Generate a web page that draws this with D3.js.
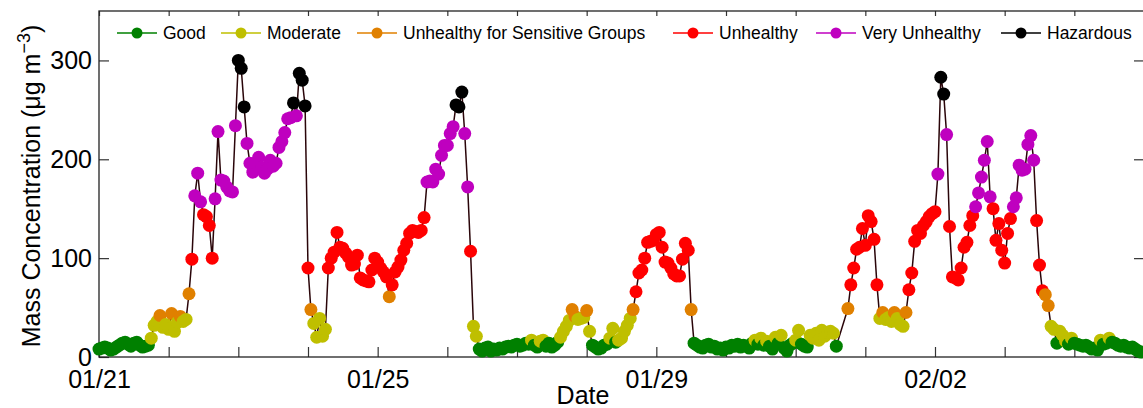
<!DOCTYPE html>
<html>
<head>
<meta charset="utf-8">
<script src="https://cdn.jsdelivr.net/npm/d3@7"></script>
<style>
body { margin: 0; background: #fff; }
text { font-family: "Liberation Sans", Arial, sans-serif; fill: #000; }
</style>
</head>
<body>
<script>
// AQI categories (PM2.5, old US EPA breakpoints)
var categories = ["Good", "Moderate", "Unhealthy for Sensitive Groups", "Unhealthy", "Very Unhealthy", "Hazardous"];
var breakpoints = [15.4, 40.4, 65.4, 150.4, 250.4];
var colors = ["#008000", "#bfbf00", "#e08000", "#ff0000", "#bf00bf", "#000000"];

var tickLabels = ["01/21", "01/25", "01/29", "02/02"];
var yTicks = [0, 100, 200, 300];

// hourly mass concentration from 01/21 00:00, one row per day (null = missing)
var pm = [
    8, 9, 10, 9, 7, 8, 10, 12, 14, 15, 13, 11, 14, 15, 12, 10, 11, 12, 19, 32, 36, 42, 30, 33,
    28, 44, 26, 35, 41, 36, 38, 64, 99, 163, 186, 157, 144, 142, 133, 100, 160, 228, 179, 178, 172, 168, 167, 234,
    300, 292, 253, 216, 196, 187, 196, 202, 192, 186, 190, 199, 193, 196, 212, 218, 227, 241, 242, 257, 244, 287, 280, 254,
    90, 48, 34, 20, 39, 21, 28, 90, 100, 106, 126, 111, 110, 105, 101, 93, 94, 103, 80, 78, 77, 76, 88, 100,
    96, 90, 86, 81, 61, 73, 86, 91, 98, 108, 115, 125, 128, 127, 126, 128, 141, 177, 178, 177, 190, 185, 204, 214,
    214, 226, 233, 255, 253, 268, 226, 172, 107, 31, 21, 8, 6, 9, 10, 6, 8, 7, 9, 8, 10, 11, 10, 12,
    13, 11, 12, 14, 13, 17, 12, 10, 16, 17, 11, 14, 10, 12, 15, 20, 26, 31, 37, 48, 41, 38, 39, 40,
    47, 26, 12, 10, 8, 9, 12, 13, 19, 29, 15, 17, 19, 26, 32, 39, 48, 66, 85, 88, 100, 116, 117, 118,
    124, 126, 111, 96, 95, 90, 84, 82, 82, 99, 115, 108, 48, 14, 12, 10, 9, 12, 13, 10, 11, 8, 9, 7,
    10, 9, 12, 11, 13, 10, 12, 11, 9, 14, 17, 13, 19, 12, 16, 11, 8, 20, 14, 22, 9, 6, 12, 14,
    17, 27, 13, 11, 10, 22, 19, 24, 17, 27, 21, 25, 26, 24, 11, null, null, null, 49, 73, 90, 109, 111, 130,
    113, 143, 137, 119, 73, 39, 45, 38, 40, 36, 45, 39, 33, 31, 45, 68, 85, 117, 128, 125, 133, 137, 142, 145,
    147, 185, 283, 266, 225, 132, 81, 80, 78, 90, 111, 116, 133, 143, 152, 166, 182, 199, 218, 162, 150, 118, 135, 108,
    95, 125, 140, 152, 161, 194, 189, 190, 215, 224, 199, 138, 93, 67, 63, 52, 31, 28, 14, 26, 22, 16, 13, 19,
    14, 13, 12, 11, 12, 10, 8, 9, 7, 17, 13, 14, 19, 15, 14, 12, 11, 12, 10, 9, 10, 8, 6, 5
];

var w = 1143;
var h = 408;
var pLeft = 99, pRight = 1144, pTop = 11, pBottom = 357;
var start = new Date(2013, 0, 21);
var end = new Date(2013, 1, 5);

var points = [];
pm.forEach(function(v, i) {
    if (v != null) points.push({ t: d3.timeHour.offset(start, i), v: v });
});

var x = d3.scaleTime().domain([start, end]).range([pLeft, pRight]);
var y = d3.scaleLinear().domain([0, 350]).range([pBottom, pTop]);
var cat = d3.scaleThreshold().domain(breakpoints).range(colors);

var svg = d3.select("body").append("svg")
    .attr("width", w)
    .attr("height", h);

// axes, ticks pointing inward
var days = d3.timeDay.range(start, d3.timeDay.offset(end, 1));
var fmt = d3.timeFormat("%m/%d");

var xb = svg.append("g")
    .attr("transform", "translate(0," + pBottom + ")")
    .call(d3.axisBottom(x).tickValues(days).tickSize(-10).tickPadding(13)
        .tickFormat(function(d) {
            var s = fmt(d);
            return tickLabels.indexOf(s) >= 0 ? s : "";
        }));

var xt = svg.append("g")
    .attr("transform", "translate(0," + pTop + ")")
    .call(d3.axisTop(x).tickValues(days).tickSize(-5).tickFormat(""));

var yl = svg.append("g")
    .attr("transform", "translate(" + pLeft + ",0)")
    .call(d3.axisLeft(y).tickValues(yTicks).tickSize(-10).tickPadding(7));

var yr = svg.append("g")
    .attr("transform", "translate(" + pRight + ",0)")
    .call(d3.axisRight(y).tickValues(yTicks).tickSize(-10).tickFormat(""));

[xb, xt, yl, yr].forEach(function(g) {
    g.select(".domain").remove();
    g.selectAll(".tick line").attr("stroke", "#333").attr("stroke-width", 1.2);
    g.selectAll(".tick text").attr("font-size", "25px").attr("font-family", "Liberation Sans, Arial, sans-serif").attr("fill", "#000");
});

svg.append("rect")
    .attr("x", pLeft)
    .attr("y", pTop)
    .attr("width", pRight - pLeft)
    .attr("height", pBottom - pTop)
    .attr("fill", "none")
    .attr("stroke", "#222")
    .attr("stroke-width", 1.3);

// series line + markers
var line = d3.line()
    .x(function(d) { return x(d.t); })
    .y(function(d) { return y(d.v); });

svg.append("path")
    .datum(points)
    .attr("d", line)
    .attr("fill", "none")
    .attr("stroke", "#2a0509")
    .attr("stroke-width", 1.5);

svg.append("g").selectAll("circle")
    .data(points)
    .enter()
    .append("circle")
    .attr("cx", function(d) { return x(d.t); })
    .attr("cy", function(d) { return y(d.v); })
    .attr("r", 6.5)
    .attr("fill", function(d) { return cat(d.v); });

// legend
var legendX = [163, 267, 403, 719, 862, 1047];
var leg = svg.append("g").selectAll("g")
    .data(categories)
    .enter()
    .append("g")
    .attr("transform", function(d, i) { return "translate(" + legendX[i] + ",33)"; });

leg.append("line")
    .attr("x1", -46).attr("x2", -6)
    .attr("stroke", function(d, i) { return colors[i]; })
    .attr("stroke-width", 1.5);
leg.append("circle")
    .attr("cx", -26)
    .attr("r", 5.5)
    .attr("fill", function(d, i) { return colors[i]; });
leg.append("text")
    .attr("dy", "0.35em")
    .attr("font-size", "17.5px")
    .text(function(d) { return d; });

// axis labels
svg.append("text")
    .attr("x", 583)
    .attr("y", 404)
    .attr("text-anchor", "middle")
    .attr("font-size", "25px")
    .text("Date");

var yt = svg.append("text")
    .attr("transform", "translate(40,186) rotate(-90)")
    .attr("text-anchor", "middle")
    .attr("font-size", "25px");
yt.append("tspan").text("Mass Concentration (\u03bcg m");
yt.append("tspan").attr("dy", "-0.55em").attr("font-size", "18px").text("\u22123");
yt.append("tspan").attr("dy", "0.4em").text(")");
</script>
</body>
</html>
